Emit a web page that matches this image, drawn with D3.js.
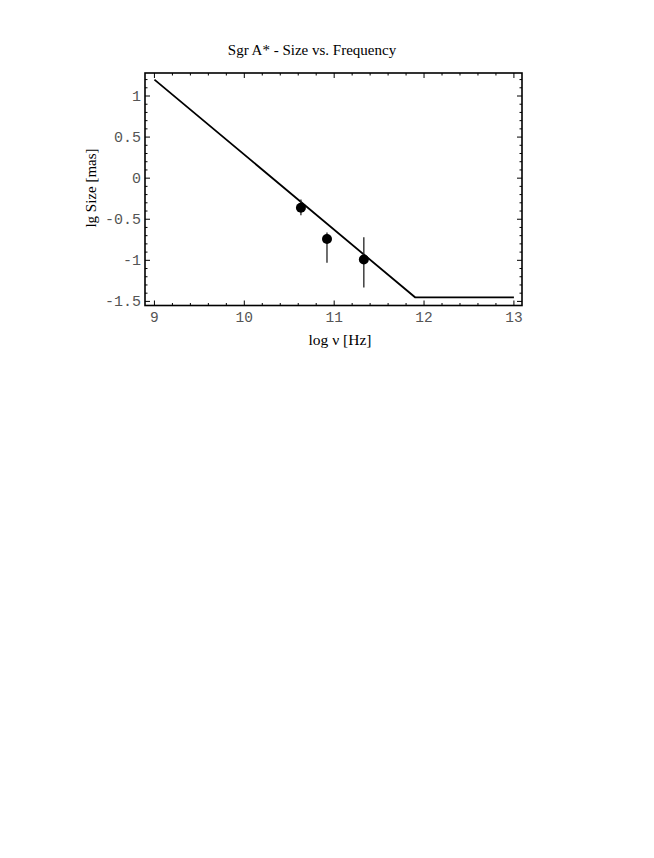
<!DOCTYPE html>
<html><head><meta charset="utf-8">
<script src="https://cdn.jsdelivr.net/npm/d3@7"></script>
<style>body{margin:0;background:#fff}</style>
</head><body>
<svg id="c" width="654" height="858"></svg>
<script>
const modelX = [9, 11.9, 13];
const modelY = [1.2, -1.45, -1.45];
const obsX = [10.63, 10.92, 11.33];
const obsY = [-0.36, -0.74, -0.99];
const obsLo = [-0.45, -1.03, -1.33];
const obsHi = [-0.26, -0.66, -0.72];
const xTicks = [9, 10, 11, 12, 13];
const yTicks = [-1.5, -1, -0.5, 0, 0.5, 1];
const yTickLabels = ["-1.5", "-1", "-0.5", "0", "0.5", "1"];

const svg = d3.select("#c");
const L = 145, R = 522, T = 73, B = 305.5;
const x = d3.scaleLinear().domain([8.895, 13.09]).range([L, R]);
const y = d3.scaleLinear().domain([-1.55, 1.28]).range([B, T]);

// frame
svg.append("rect").attr("x", L).attr("y", T).attr("width", R - L).attr("height", B - T)
  .attr("fill", "none").attr("stroke", "#000").attr("stroke-width", 1.6);

// ticks
const xMinor = d3.range(9, 13.05, 0.2);
const yMinor = d3.range(-1.5, 1.25, 0.1);
const g = svg.append("g").attr("stroke", "#000").attr("stroke-width", 1);
xMinor.forEach(v => {
  const major = Math.abs(v - Math.round(v)) < 1e-6;
  const len = major ? 5 : 2.5;
  g.append("line").attr("x1", x(v)).attr("x2", x(v)).attr("y1", B).attr("y2", B - len);
  g.append("line").attr("x1", x(v)).attr("x2", x(v)).attr("y1", T).attr("y2", T + len);
});
yMinor.forEach(v => {
  const major = Math.abs(v * 2 - Math.round(v * 2)) < 1e-6;
  const len = major ? 5 : 2.5;
  g.append("line").attr("y1", y(v)).attr("y2", y(v)).attr("x1", L).attr("x2", L + len);
  g.append("line").attr("y1", y(v)).attr("y2", y(v)).attr("x1", R).attr("x2", R - len);
});

// tick labels
svg.append("g").selectAll("text").data(xTicks).join("text")
  .attr("x", d => x(d)).attr("y", B + 16.5).attr("text-anchor", "middle")
  .attr("font-family", "Liberation Mono, monospace").attr("font-size", 14.5).attr("fill", "#555")
  .text(d => d);
svg.append("g").selectAll("text").data(yTicks).join("text")
  .attr("x", L - 4).attr("y", d => y(d) + 4.5).attr("text-anchor", "end")
  .attr("font-family", "Liberation Mono, monospace").attr("font-size", 15).attr("fill", "#555")
  .text((d, i) => yTickLabels[i]);

// model line
const line = d3.line().x(d => x(d[0])).y(d => y(d[1]));
svg.append("path").datum(modelX.map((v, i) => [v, modelY[i]])).attr("d", line)
  .attr("fill", "none").attr("stroke", "#000").attr("stroke-width", 1.8);

// error bars and points
obsX.forEach((v, i) => {
  svg.append("line").attr("x1", x(v)).attr("x2", x(v)).attr("y1", y(obsLo[i])).attr("y2", y(obsHi[i]))
    .attr("stroke", "#222").attr("stroke-width", 1.3);
});
svg.append("g").selectAll("circle").data(obsX).join("circle")
  .attr("cx", d => x(d)).attr("cy", (d, i) => y(obsY[i])).attr("r", 5).attr("fill", "#000");

// titles
svg.append("text").attr("x", 312).attr("y", 55).attr("text-anchor", "middle")
  .attr("font-family", "Liberation Serif, serif").attr("font-size", 15).text("Sgr A* - Size vs. Frequency");
svg.append("text").attr("x", 340).attr("y", 345).attr("text-anchor", "middle")
  .attr("font-family", "Liberation Serif, serif").attr("font-size", 15.5).text("log ν [Hz]");
svg.append("text").attr("transform", "translate(96,188) rotate(-90)").attr("text-anchor", "middle")
  .attr("font-family", "Liberation Serif, serif").attr("font-size", 15).text("lg Size [mas]");
</script>
</body></html>
